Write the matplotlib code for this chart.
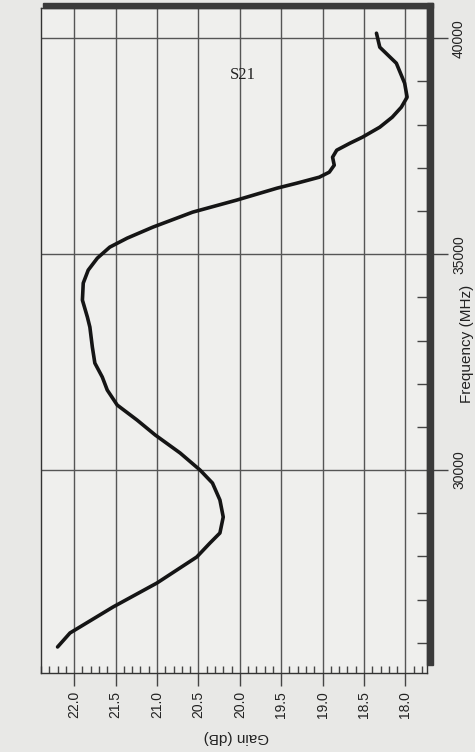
import matplotlib
matplotlib.use("Agg")
import matplotlib.pyplot as plt
from matplotlib.ticker import MultipleLocator
from matplotlib.patches import Rectangle

# Data
freq_mhz = [40116, 39792, 39421, 38958, 38634, 38403, 38171, 37940, 37708, 37569,
            37407, 37245, 37060, 36898, 36782, 36644, 36528, 36250, 35972, 35625,
            35370, 35162, 34907, 34630, 34329, 33935, 33542, 33310, 32847, 32477,
            32153, 31852, 31505, 31157, 30810, 30394, 30000, 29699, 29306, 28912,
            28542, 28310, 27986, 27384, 26829, 26227, 25903]
gain_db = [18.35, 18.31, 18.11, 18.01, 17.98, 18.05, 18.16, 18.31, 18.52, 18.67,
           18.83, 18.88, 18.86, 18.92, 19.04, 19.31, 19.55, 20.04, 20.57, 21.05,
           21.36, 21.57, 21.72, 21.83, 21.89, 21.90, 21.84, 21.81, 21.78, 21.75,
           21.66, 21.60, 21.48, 21.24, 21.02, 20.72, 20.48, 20.33, 20.24, 20.20,
           20.24, 20.36, 20.52, 21.00, 21.53, 22.05, 22.20]
gain_ticks = [18.0, 18.5, 19.0, 19.5, 20.0, 20.5, 21.0, 21.5, 22.0]
freq_ticks = [30000, 35000, 40000]
title = "S21"

W, H = 475, 752
fig = plt.figure(figsize=(W / 100, H / 100), dpi=100, facecolor="#e8e8e6")
L, R, T, B = 41, 427, 8, 673
ax = fig.add_axes([L / W, 1 - B / H, (R - L) / W, (B - T) / H])
ax.set_facecolor("#efefed")

ax.plot(gain_db, freq_mhz, color="#151515", lw=2.6, solid_capstyle="round", zorder=3)

ax.set_xlim(22.4, 17.74)
ax.set_ylim(25300, 40700)

for g in gain_ticks:
    ax.axvline(g, color="#555555", lw=1.0, zorder=1)
for f in freq_ticks:
    ax.axhline(f, color="#555555", lw=1.0, zorder=1)

font = "Liberation Sans"
ax.set_xticks(gain_ticks)
ax.set_xticklabels([f"{g:.1f}" for g in gain_ticks], rotation=90,
                   fontsize=10, family=font, color="#222222")
ax.xaxis.set_minor_locator(MultipleLocator(0.1))
ax.tick_params(axis="x", which="major", direction="out", length=9, width=1,
               color="#444444", pad=4)
ax.tick_params(axis="x", which="minor", direction="in", length=5, width=1,
               color="#444444")

ax.yaxis.tick_right()
ax.set_yticks(freq_ticks)
ax.set_yticklabels([str(f) for f in freq_ticks], rotation=90,
                   fontsize=10, family=font, color="#222222", va="center")
ax.yaxis.set_minor_locator(MultipleLocator(1000))
ax.tick_params(axis="y", which="major", direction="out", length=15, width=1,
               color="#444444", pad=3)
ax.tick_params(axis="y", which="minor", direction="in", length=7, width=1,
               color="#444444")

ax.set_xlabel("Gain (dB)", rotation=180, fontsize=11, family=font, color="#222222")
ax.xaxis.set_label_coords(0.505, (B - 737) / (B - T))
ax.xaxis.label.set_va("center")
ax.yaxis.set_label_position("right")
ax.set_ylabel("Frequency (MHz)", rotation=90, fontsize=11, family=font, color="#222222")
ax.yaxis.set_label_coords((467 - L) / (R - L), (B - 344) / (B - T))
ax.yaxis.label.set_va("center")
ax.yaxis.label.set_ha("center")

for s in ax.spines.values():
    s.set_color("#333333")
    s.set_linewidth(1.0)

# drop shadow of the original frame (top and right after rotation)
fig.patches.append(Rectangle((43 / W, 1 - 8 / H), (433 - 43) / W, 5 / H,
                             transform=fig.transFigure, color="#3a3a3a", zorder=5))
fig.patches.append(Rectangle((R / W, 1 - 665 / H), 6 / W, (665 - 3) / H,
                             transform=fig.transFigure, color="#3a3a3a", zorder=5))

fig.text(243 / W, 1 - 75 / H, title, family="Liberation Serif", fontsize=12,
         ha="center", va="center", color="#222222")

fig.savefig("out.png", dpi=100, facecolor=fig.get_facecolor())
